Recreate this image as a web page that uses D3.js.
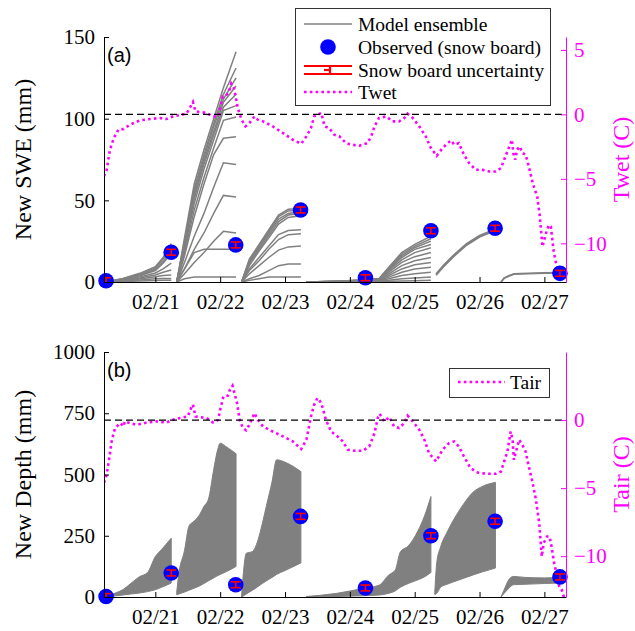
<!DOCTYPE html>
<html>
<head>
<meta charset="utf-8">
<script src="https://cdn.jsdelivr.net/npm/d3@7"></script>
<style>
  body { margin: 0; background: #fff; }
  svg { display: block; }
  svg text { font-family: 'Liberation Serif', 'Times New Roman', serif; }
  svg text.tag { font-family: 'Liberation Sans', Arial, sans-serif; }
</style>
</head>
<body>
<div id="chart"></div>
<script>
// times are decimal days of February (20.5 = Feb 20 12:00)
let obsDay = [20.24, 21.245, 22.24, 23.24, 24.24, 25.25, 26.24, 27.24]
let obsSwe = [0.8, 18.2, 22.7, 44.1, 2.6, 31.4, 32.9, 5.3]
let obsDepth = [2, 98, 50, 329, 37, 250, 309, 82]
let sweUnc = 1.8
let depthUnc = 12

// model ensemble, new SWE (mm), one list of members per snowfall period
let seg1T = [20.24, 20.5, 20.76, 21.0, 21.12, 21.245]
let seg1Swe = [
  [0, 2.2, 5.3, 9.4, 15, 23.5],
  [0, 2.0, 4.8, 8.6, 14, 21.5],
  [0, 1.8, 4.3, 7.8, 12.5, 19.5],
  [0, 1.6, 3.8, 7.0, 11.5, 17.5],
  [0, 1.3, 3.0, 5.5, 8, 11.5],
  [0, 1.0, 2.4, 4.3, 6, 7.3],
  [0, 0.8, 1.8, 3.2, 4, 4.3],
  [0, 0.5, 1.2, 2.0, 2.2, 2.2],
  [0, 0.3, 0.6, 0.9, 1.0, 1.0]
]
let seg2T = [21.33, 21.45, 21.6, 21.75, 21.9, 22.05, 22.245]
let seg2Swe = [
  [0, 27, 60, 81, 100, 119, 141],
  [0, 25, 57, 78, 97, 115, 131],
  [0, 24, 55, 76, 95, 112, 125],
  [0, 23, 53, 74, 92, 110, 120],
  [0, 22, 51, 72, 90, 107, 115],
  [0, 20, 48, 69, 87, 105, 108],
  [0, 18, 44, 64, 82, 99, 101],
  [0, 16, 40, 60, 78, 88, 89],
  [0, 12, 28, 42, 58, 73, 72],
  [0, 8, 20, 30, 42, 53, 52],
  [0, 5, 12, 18, 25, 31, 30],
  [0, 8, 18, 20, 20, 20, 20],
  [0, 2, 3, 3, 3, 3, 3]
]
let seg3T = [22.33, 22.45, 22.6, 22.75, 22.9, 23.05, 23.245]
let seg3Swe = [
  [0, 14, 23, 32, 41, 44.5, 45],
  [0, 13, 22, 31, 40, 43.5, 44],
  [0, 12, 21, 30, 38.5, 42, 43],
  [0, 11, 20, 28.5, 37, 41, 42],
  [0, 10, 19, 27, 35.5, 39.5, 40.5],
  [0, 8, 15, 22, 29, 31.5, 32],
  [0, 7, 13, 20, 26, 29, 29.5],
  [0, 5, 10, 15, 19.5, 21.5, 22],
  [0, 2, 4, 7, 10, 11, 11],
  [0, 1, 2, 3, 3, 3, 3]
]
let seg4T = [23.33, 23.8, 24.2, 24.45, 24.6, 24.8, 25.0, 25.25]
let seg4Swe = [
  [0, 0.5, 1.2, 2, 9, 18, 23, 28],
  [0, 0.5, 1.2, 2, 8.5, 17, 22, 26.5],
  [0, 0.4, 1.0, 1.8, 8, 16, 21, 25],
  [0, 0.4, 1.0, 1.8, 7.5, 15, 20, 23],
  [0, 0.3, 0.8, 1.5, 7, 13.5, 18, 21],
  [0, 0.3, 0.8, 1.5, 6, 12, 15.5, 18],
  [0, 0.2, 0.6, 1.2, 5, 10, 13, 15],
  [0, 0.2, 0.5, 1.0, 4, 8, 10.5, 12],
  [0, 0.1, 0.4, 0.8, 3, 6, 8, 9],
  [0, 0.1, 0.3, 0.6, 2, 4, 5, 6],
  [0, 0, 0.2, 0.4, 1, 2, 2.5, 3],
  [0, 0, 0.1, 0.2, 0.4, 0.6, 0.8, 1]
]
let seg5T = [25.33, 25.45, 25.6, 25.8, 26.0, 26.245]
let seg5Swe = [
  [5, 10.5, 16.5, 23.5, 28.5, 32.5],
  [4.6, 10, 16, 23, 28, 32],
  [4.2, 9.5, 15.5, 22.5, 27.5, 31.5]
]
let seg6T = [26.33, 26.38, 26.45, 26.53, 26.75, 27.0, 27.3]
let seg6Swe = [
  [0, 2.5, 3.9, 5.1, 5.4, 5.6, 5.8],
  [0, 2.2, 3.5, 4.7, 5.1, 5.3, 5.5]
]

// model ensemble, new depth (mm): lowest and highest member per period
let dep1T = [20.24, 20.4, 20.5, 20.62, 20.75, 20.88, 21.0, 21.1, 21.245]
let dep1Lo = [0, 5, 8, 12, 16, 22, 30, 40, 57]
let dep1Hi = [0, 18, 30, 55, 82, 100, 165, 195, 240]
let dep2T = [21.33, 21.36, 21.45, 21.52, 21.6, 21.68, 21.75, 21.82, 21.9, 21.96, 22.0, 22.1, 22.245]
let dep2Lo = [9, 12, 20, 28, 36, 45, 55, 66, 78, 87, 92, 104, 125]
let dep2Hi = [20, 90, 190, 290, 310, 335, 370, 400, 520, 600, 628, 612, 585]
let dep3T = [22.33, 22.37, 22.4, 22.5, 22.58, 22.65, 22.72, 22.8, 22.87, 23.0, 23.245]
let dep3Lo = [0, 6, 12, 28, 42, 55, 67, 80, 92, 108, 139]
let dep3Hi = [5, 130, 178, 186, 230, 300, 380, 470, 560, 550, 512]
let dep4T = [23.33, 23.8, 24.2, 24.45, 24.6, 24.7, 24.78, 24.9, 25.05, 25.15, 25.25]
let dep4Lo = [0, 2, 5, 8, 15, 25, 40, 55, 70, 82, 100]
let dep4Hi = [2, 15, 35, 48, 90, 110, 185, 208, 270, 330, 410]
let dep5T = [25.31, 25.34, 25.4, 25.5, 25.6, 25.75, 25.9, 26.05, 26.245]
let dep5Lo = [10, 15, 40, 52, 62, 76, 90, 103, 118]
let dep5Hi = [20, 140, 205, 265, 315, 378, 428, 452, 468]
let dep6T = [26.33, 26.38, 26.45, 26.52, 26.7, 27.0, 27.245]
let dep6Lo = [0, 15, 35, 50, 52, 55, 57]
let dep6Hi = [0, 30, 70, 84, 80, 78, 80]

// wet-bulb temperature (C)
let twetT = [20.208, 20.25, 20.30, 20.36, 20.43, 20.51, 20.61, 20.76, 20.92, 21.07, 21.17, 21.27,
  21.48, 21.54, 21.58, 21.62, 21.68, 21.79, 21.89, 21.97, 22.0, 22.04, 22.08, 22.13, 22.17, 22.21,
  22.24, 22.27, 22.33, 22.39, 22.45, 22.53, 22.58, 22.66, 22.81, 22.97, 23.12, 23.25, 23.33, 23.40,
  23.45, 23.50, 23.56, 23.61, 23.68, 23.76, 23.84, 23.94, 24.04, 24.15, 24.27, 24.33, 24.38, 24.45,
  24.56, 24.66, 24.76, 24.84, 24.89, 24.97, 25.07, 25.17, 25.25, 25.34, 25.43, 25.51, 25.56, 25.61,
  25.68, 25.76, 25.84, 25.94, 26.04, 26.15, 26.25, 26.33, 26.38, 26.44, 26.50, 26.52, 26.55, 26.58,
  26.62, 26.66, 26.71, 26.76, 26.82, 26.89, 26.93, 26.97, 27.01, 27.04, 27.07, 27.10, 27.14, 27.18,
  27.23, 27.27, 27.30]
let twet = [-4.8, -4.3, -2.75, -1.84, -1.19, -1.14, -0.8, -0.47, -0.36, -0.28, -0.36, -0.16,
  0.05, 0.58, 0.96, 0.23, 0.19, 0.11, -0.16, -0.16, 0.5, 1.4, 1.45, 1.66, 2.39, 2.05,
  1.4, 0.5, -0.41, -0.93, -0.67, -0.16, -0.41, -0.54, -0.93, -1.45, -1.97, -2.28, -1.71, -1.06,
  -0.16, -0.02, 0.11, -0.93, -1.06, -1.58, -1.71, -2.23, -2.36, -2.43, -2.23, -1.71, -0.93, -0.28,
  -0.16, -0.54, -0.54, -0.28, 0.05, -0.28, -0.93, -1.71, -2.61, -3.21, -2.61, -2.23, -2.02, -2.36,
  -2.23, -3.13, -3.78, -4.3, -4.3, -4.43, -4.43, -4.17, -3.52, -2.74, -1.97, -3.0, -3.52, -2.74,
  -2.49, -3.0, -3.13, -4.04, -5.33, -6.38, -7.93, -10.26, -9.49, -8.97, -8.58, -8.71, -10.52, -11.56,
  -12.2, -12.6, -13]

// air temperature (C)
let tairT = [20.208, 20.24, 20.27, 20.33, 20.38, 20.46, 20.51, 20.53, 20.61, 20.71, 20.87, 21.02,
  21.17, 21.27, 21.38, 21.50, 21.56, 21.58, 21.62, 21.68, 21.79, 21.89, 21.97, 22.0, 22.05, 22.12,
  22.15, 22.19, 22.22, 22.26, 22.30, 22.35, 22.40, 22.45, 22.53, 22.58, 22.66, 22.81, 22.97, 23.12,
  23.25, 23.33, 23.40, 23.45, 23.50, 23.56, 23.63, 23.71, 23.81, 23.89, 23.97, 24.07, 24.20, 24.30,
  24.38, 24.43, 24.46, 24.53, 24.61, 24.68, 24.76, 24.84, 24.89, 24.97, 25.07, 25.15, 25.22, 25.33,
  25.43, 25.53, 25.61, 25.68, 25.76, 25.86, 25.97, 26.10, 26.25, 26.33, 26.38, 26.43, 26.48, 26.51,
  26.53, 26.57, 26.61, 26.66, 26.71, 26.76, 26.82, 26.87, 26.92, 26.96, 26.99, 27.04, 27.08, 27.11,
  27.15, 27.20, 27.23, 27.27, 27.30]
let tair = [-4.6, -4.2, -3.41, -1.45, -0.59, -0.22, -0.47, -0.1, -0.22, -0.35, -0.18, -0.1,
  -0.18, 0.02, 0.15, 0.26, 1.0, 1.13, 0.26, 0.22, 0.15, -0.18, 0.02, 0.76, 1.74, 1.79,
  2.23, 2.52, 1.99, 1.25, 0.02, -0.59, -0.76, -0.35, 0.51, 0.02, -0.47, -0.84, -1.2, -1.57,
  -2.13, -1.45, 0.26, 1.13, 1.62, 1.25, 0.02, -0.84, -1.2, -1.57, -2.18, -2.26, -2.26, -1.94,
  -0.96, 0.15, 0.46, -0.1, 0.22, -0.47, -0.59, -0.22, 0.32, -0.1, -0.71, -1.45, -2.43, -3.04,
  -2.18, -1.69, -1.57, -1.94, -2.68, -3.53, -3.85, -3.95, -3.95, -3.78, -3.04, -2.31, -0.84, -1.45,
  -2.92, -2.18, -1.45, -1.82, -2.31, -3.41, -4.63, -5.86, -7.57, -10.03, -9.04, -8.56, -8.56, -9.29,
  -10.51, -11.5, -12.24, -12.5, -13]

let dayTicks = [21, 22, 23, 24, 25, 26, 27]

function toDate(d) {
  return new Date(Date.UTC(2019, 1, 1) + (d - 1) * 86400000)
}

var W = 635, H = 631
var left = 104, right = 566

var svg = d3.select("#chart").append("svg")
  .attr("width", W).attr("height", H)

var x = d3.scaleUtc()
  .domain([toDate(20 + 5 / 24), toDate(27 + 8 / 24)])
  .range([left, right])

var magenta = "#ff00ff"
var gray = "#808080"

function panel(opts) {
  var top = opts.top, bottom = opts.bottom
  var y = d3.scaleLinear().domain(opts.yDomain).range([bottom, top])
  var yr = d3.scaleLinear().domain(opts.rDomain).range([bottom, top])
  var g = svg.append("g")

  var clipId = "clip" + opts.name
  svg.append("clipPath").attr("id", clipId)
    .append("rect").attr("x", left).attr("y", top)
    .attr("width", right - left).attr("height", bottom - top)

  var plot = g.append("g").attr("clip-path", "url(#" + clipId + ")")

  // ensemble
  if (opts.lines) {
    var line = d3.line()
      .x(d => x(toDate(d[0])))
      .y(d => y(d[1]))
    opts.lines.forEach(seg => {
      seg.members.forEach(m => {
        plot.append("path")
          .datum(seg.t.map((t, i) => [t, m[i]]))
          .attr("d", line)
          .attr("fill", "none")
          .attr("stroke", gray)
          .attr("stroke-width", 1.5)
      })
    })
  }
  if (opts.bands) {
    var area = d3.area()
      .x(d => x(toDate(d.t)))
      .y0(d => y(d.lo))
      .y1(d => y(d.hi))
      .curve(d3.curveMonotoneX)
    opts.bands.forEach(b => {
      plot.append("path")
        .datum(b.t.map((t, i) => ({t: t, lo: b.lo[i], hi: b.hi[i]})))
        .attr("d", area)
        .attr("fill", gray)
        .attr("stroke", gray)
        .attr("stroke-width", 1)
    })
  }

  // temperature on right axis
  var tline = d3.line()
    .x((d, i) => x(toDate(opts.tT[i])))
    .y(d => yr(d))
  plot.append("path")
    .datum(opts.temp)
    .attr("d", tline)
    .attr("fill", "none")
    .attr("stroke", magenta)
    .attr("stroke-width", 2.6)
    .attr("stroke-dasharray", "2.6,3.2")

  // 0 C reference
  plot.append("line")
    .attr("x1", left).attr("x2", right)
    .attr("y1", yr(0)).attr("y2", yr(0))
    .attr("stroke", "#000").attr("stroke-width", 1.3)
    .attr("stroke-dasharray", "7,4")

  // observations
  g.selectAll("circle.obs")
    .data(opts.obs)
    .enter().append("circle")
    .attr("class", "obs")
    .attr("cx", (d, i) => x(toDate(obsDay[i])))
    .attr("cy", d => y(d))
    .attr("r", 7.8)
    .attr("fill", "#0000ff")

  var eb = g.append("g").attr("clip-path", "url(#" + clipId + ")")
    .attr("stroke", "#ff0000").attr("stroke-width", 1.6)
  opts.obs.forEach((v, i) => {
    var cx = x(toDate(obsDay[i]))
    var y1 = y(v - opts.unc), y2 = y(v + opts.unc)
    eb.append("line").attr("x1", cx).attr("x2", cx).attr("y1", y1).attr("y2", y2)
    eb.append("line").attr("x1", cx - 5).attr("x2", cx + 5).attr("y1", y1).attr("y2", y1)
    eb.append("line").attr("x1", cx - 5).attr("x2", cx + 5).attr("y1", y2).attr("y2", y2)
  })

  // axes, ticks inside like the original
  var fs = 21
  var ax = g.append("g").attr("transform", "translate(0," + bottom + ")")
    .call(d3.axisBottom(x)
      .tickValues(dayTicks.map(toDate))
      .tickFormat(d3.utcFormat("%m/%d"))
      .tickSizeInner(-5).tickSizeOuter(0).tickPadding(12))
  ax.attr("font-size", fs)
  ax.select(".domain").attr("stroke", "#000")
  ax.selectAll("text").attr("fill", "#000")

  var ay = g.append("g").attr("transform", "translate(" + left + ",0)")
    .call(d3.axisLeft(y).tickValues(opts.yTicks).tickFormat(d3.format("d"))
      .tickSizeInner(-5).tickSizeOuter(0).tickPadding(9))
  ay.attr("font-size", fs)
  ay.selectAll("text").attr("fill", "#000")

  var ayr = g.append("g").attr("transform", "translate(" + right + ",0)")
    .call(d3.axisRight(yr).tickValues(opts.rTicks)
      .tickSizeInner(-5).tickSizeOuter(0).tickPadding(8))
  ayr.attr("font-size", fs)
  ayr.select(".domain").attr("stroke", magenta)
  ayr.selectAll("line").attr("stroke", magenta)
  ayr.selectAll("text").attr("fill", magenta)

  // labels
  g.append("text")
    .attr("transform", "translate(23," + (top + bottom) / 2 + ") rotate(-90)")
    .attr("text-anchor", "middle").attr("dominant-baseline", "central")
    .attr("font-size", 24).text(opts.yLabel)
  g.append("text")
    .attr("transform", "translate(621," + (top + bottom) / 2 + ") rotate(-90)")
    .attr("text-anchor", "middle").attr("dominant-baseline", "central")
    .attr("font-size", 24).attr("fill", magenta).text(opts.rLabel)
  g.append("text")
    .attr("class", "tag")
    .attr("x", 107).attr("y", top + 25)
    .attr("font-size", 20).text(opts.tag)
}

panel({
  name: "a", top: 37, bottom: 282,
  yDomain: [0, 150], yTicks: [0, 50, 100, 150],
  rDomain: [-13, 6], rTicks: [-10, -5, 0, 5],
  lines: [
    {t: seg1T, members: seg1Swe}, {t: seg2T, members: seg2Swe},
    {t: seg3T, members: seg3Swe}, {t: seg4T, members: seg4Swe},
    {t: seg5T, members: seg5Swe}, {t: seg6T, members: seg6Swe}
  ],
  tT: twetT, temp: twet,
  obs: obsSwe, unc: sweUnc,
  yLabel: "New SWE (mm)", rLabel: "Twet (C)", tag: "(a)"
})

panel({
  name: "b", top: 352, bottom: 597,
  yDomain: [0, 1000], yTicks: [0, 250, 500, 750, 1000],
  rDomain: [-13, 5], rTicks: [-10, -5, 0],
  bands: [
    {t: dep1T, lo: dep1Lo, hi: dep1Hi}, {t: dep2T, lo: dep2Lo, hi: dep2Hi},
    {t: dep3T, lo: dep3Lo, hi: dep3Hi}, {t: dep4T, lo: dep4Lo, hi: dep4Hi},
    {t: dep5T, lo: dep5Lo, hi: dep5Hi}, {t: dep6T, lo: dep6Lo, hi: dep6Hi}
  ],
  tT: tairT, temp: tair,
  obs: obsDepth, unc: depthUnc,
  yLabel: "New Depth (mm)", rLabel: "Tair (C)", tag: "(b)"
})

// legends
function legendBox(x0, y0, w, h) {
  svg.append("rect").attr("x", x0).attr("y", y0).attr("width", w).attr("height", h)
    .attr("fill", "#fff").attr("stroke", "#333").attr("stroke-width", 1)
}
legendBox(295.5, 8.5, 255, 97)
var lg = svg.append("g").attr("font-size", 19.5)
var rows = [24, 47, 70, 92]
lg.append("line").attr("x1", 304).attr("x2", 352).attr("y1", rows[0]).attr("y2", rows[0])
  .attr("stroke", gray).attr("stroke-width", 1.5)
lg.append("circle").attr("cx", 328).attr("cy", rows[1]).attr("r", 7.8).attr("fill", "#0000ff")
var eg = lg.append("g").attr("stroke", "#ff0000").attr("stroke-width", 2.2)
eg.append("line").attr("x1", 304).attr("x2", 352).attr("y1", rows[2] - 4).attr("y2", rows[2] - 4)
eg.append("line").attr("x1", 304).attr("x2", 352).attr("y1", rows[2] + 4).attr("y2", rows[2] + 4)
eg.append("line").attr("x1", 330).attr("x2", 330).attr("y1", rows[2] - 4).attr("y2", rows[2] + 4)
eg.append("line").attr("x1", 324).attr("x2", 330).attr("y1", rows[2]).attr("y2", rows[2])
lg.append("line").attr("x1", 304).attr("x2", 352).attr("y1", rows[3]).attr("y2", rows[3])
  .attr("stroke", magenta).attr("stroke-width", 2.6).attr("stroke-dasharray", "2.6,3.2")
var labels = ["Model ensemble", "Observed (snow board)", "Snow board uncertainty", "Twet"]
labels.forEach((t, i) => {
  lg.append("text").attr("x", 358).attr("y", rows[i]).attr("dominant-baseline", "central").text(t)
})

legendBox(449.5, 368.5, 100, 29)
svg.append("line").attr("x1", 458).attr("x2", 505).attr("y1", 382).attr("y2", 382)
  .attr("stroke", magenta).attr("stroke-width", 2.6).attr("stroke-dasharray", "2.6,3.2")
svg.append("text").attr("x", 510).attr("y", 382).attr("dominant-baseline", "central")
  .attr("font-size", 19.5).text("Tair")
</script>
</body>
</html>
